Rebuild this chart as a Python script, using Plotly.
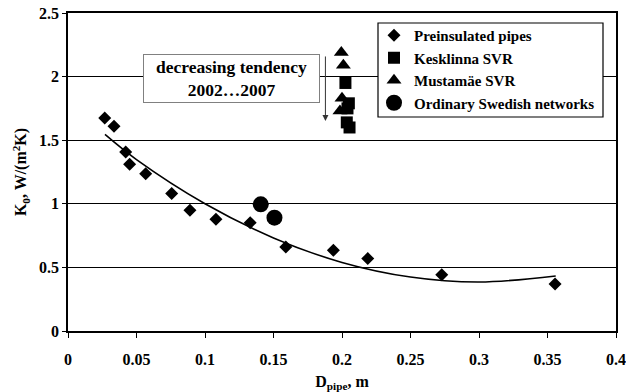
import plotly.graph_objects as go

# Preinsulated pipes
pre_x = [0.0268, 0.0336, 0.0421, 0.0450, 0.0567, 0.0757, 0.0890, 0.1080, 0.1330, 0.1590, 0.1937, 0.2188, 0.2728, 0.3555]
pre_y = [1.675, 1.610, 1.407, 1.310, 1.237, 1.080, 0.949, 0.878, 0.852, 0.660, 0.634, 0.569, 0.443, 0.370]

# Kesklinna SVR
kes_x = [0.2025, 0.2050, 0.2040, 0.2035, 0.2055]
kes_y = [1.950, 1.790, 1.750, 1.640, 1.600]

# Mustamäe SVR
mus_x = [0.1995, 0.2010, 0.2000, 0.1985]
mus_y = [2.190, 2.090, 1.830, 1.730]

# Ordinary Swedish networks
swe_x = [0.1407, 0.1507]
swe_y = [0.996, 0.891]

# Trend line
trend_x = [0.027, 0.05, 0.1, 0.15, 0.2, 0.25, 0.3, 0.356]
trend_y = [1.545, 1.347, 1.000, 0.732, 0.539, 0.424, 0.385, 0.433]

x_ticks = [0, 0.05, 0.1, 0.15, 0.2, 0.25, 0.3, 0.35, 0.4]
x_ticklabels = ["0", "0.05", "0.1", "0.15", "0.2", "0.25", "0.3", "0.35", "0.4"]
y_ticks = [0, 0.5, 1, 1.5, 2, 2.5]
y_ticklabels = ["0", "0.5", "1", "1.5", "2", "2.5"]

FONT = "Liberation Serif"
W, H = 626, 392
ML, MR, MT, MB = 68, 10, 13, 61
PW, PH = W - ML - MR, H - MT - MB


def px(xp):
    return (xp - ML) / PW


def py(yp):
    return (H - MB - yp) / PH


fig = go.Figure()

fig.add_trace(go.Scatter(x=trend_x, y=trend_y, mode="lines", line=dict(color="black", width=1.6, shape="spline"),
                         showlegend=False, hoverinfo="skip"))
fig.add_trace(go.Scatter(x=pre_x, y=pre_y, mode="markers", name="<b>Preinsulated pipes</b>",
                         marker=dict(symbol="diamond", size=10, color="black")))
fig.add_trace(go.Scatter(x=kes_x, y=kes_y, mode="markers", name="<b>Kesklinna SVR</b>",
                         marker=dict(symbol="square", size=12, color="black")))
fig.add_trace(go.Scatter(x=mus_x, y=mus_y, mode="markers", name="<b>Mustamäe SVR</b>",
                         marker=dict(symbol="triangle-up", size=13, color="black")))
fig.add_trace(go.Scatter(x=swe_x, y=swe_y, mode="markers", name="<b>Ordinary Swedish networks</b>",
                         marker=dict(symbol="circle", size=16, color="black")))

fig.add_annotation(x=px(231.5), y=py(78.5), xref="paper", yref="paper", xanchor="center", yanchor="middle",
                   text="<b>decreasing tendency<br>2002…2007</b>", showarrow=False,
                   font=dict(family=FONT, size=17.5, color="black"),
                   bordercolor="#808080", borderwidth=1, borderpad=0, bgcolor="white",
                   width=175, height=47, align="center")

fig.add_annotation(x=0.1879, y=1.65, ax=0.1879, ay=2.17, xref="x", yref="y", axref="x", ayref="y",
                   text="", showarrow=True, arrowhead=2, arrowsize=1.2, arrowwidth=1, arrowcolor="#333333")

# legend frame
fig.add_shape(type="rect", xref="paper", yref="paper", x0=px(378), x1=px(603), y0=py(117), y1=py(23),
              line=dict(color="black", width=1.2), fillcolor="white", layer="above")

fig.update_layout(
    width=W, height=H,
    margin=dict(l=ML, r=MR, t=MT, b=MB, autoexpand=False),
    paper_bgcolor="white", plot_bgcolor="white",
    font=dict(family=FONT, size=16, color="black"),
    legend=dict(x=px(374), y=py(19), xanchor="left", yanchor="top",
                borderwidth=0, bgcolor="rgba(0,0,0,0)",
                font=dict(family=FONT, size=15, color="black")),
    xaxis=dict(range=[0, 0.4], tickvals=x_ticks, ticktext=["<b>%s</b>" % t for t in x_ticklabels], showgrid=False,
               showline=True, linecolor="black", linewidth=1.5, mirror=True, automargin=False,
               ticks="outside", ticklen=5, tickcolor="black", zeroline=False, ticklabelstandoff=8,
               tickfont=dict(family=FONT, size=16),
               title=dict(text="<b>D<sub>pipe</sub>, m</b>", standoff=12,
                          font=dict(family=FONT, size=16))),
    yaxis=dict(range=[0, 2.5], tickvals=y_ticks, ticktext=["<b>%s</b>" % t for t in y_ticklabels], showgrid=True,
               gridcolor="black", gridwidth=1.2, automargin=False,
               showline=True, linecolor="black", linewidth=1.5, mirror=True,
               ticks="outside", ticklen=4, tickcolor="black", zeroline=False,
               tickfont=dict(family=FONT, size=16),
               title=dict(text="<b>K<sub>0</sub>, W/(m<sup>2</sup>K)</b>", standoff=8,
                          font=dict(family=FONT, size=16))),
)

fig.write_html("out.html", config={"displayModeBar": False},
               post_script="document.body.style.margin='0px';")
